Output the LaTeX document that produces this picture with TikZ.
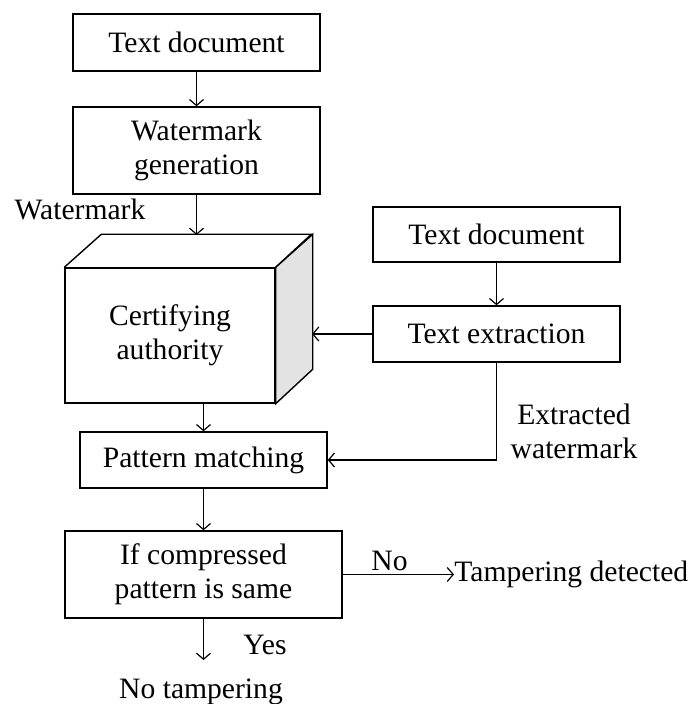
\documentclass[tikz,border=0pt]{standalone}
\usepackage{fontspec}
\setmainfont{Liberation Serif}
\usetikzlibrary{arrows.meta}
\begin{document}
\begin{tikzpicture}[x=0.5pt,y=-0.5pt,
  font=\fontsize{14.8}{17}\selectfont,
  every node/.style={align=center},
  stepbox/.style={draw, line width=0.7pt, inner sep=0pt, minimum width=123.5pt},
  lbl/.style={inner sep=0pt},
  conn/.style={line width=0.7pt},
  arr/.style={conn, -{Straight Barb[length=3pt,width=7pt,line width=0.6pt]}}]
\useasboundingbox (0,0) rectangle (697,704);
% left column
\node[stepbox, minimum height=28.5pt] (doc1) at (196.5,42.5) {Text document};
\node[stepbox, minimum height=43.5pt] (gen) at (196.5,150.5) {Watermark\\generation};
\node[lbl] (wm) at (80,209) {Watermark};
% cube
\fill[white] (102,235) -- (312,235) -- (275,268) -- (65,268) -- cycle;
\node[stepbox, minimum width=105pt, minimum height=67.5pt, fill=white] (cert) at (170,335.5) {Certifying\\authority};
\draw[conn, line join=miter] (cert.north west) -- ++(37,-33) -- ++(210,0) -- (cert.north east);
\draw[conn, fill=gray!22, line join=miter] (cert.north east) -- ++(37,-33) -- ++(0,135) -- (cert.south east) -- cycle;
\coordinate (certside) at (312,334);
% right column
\node[stepbox, minimum height=27.5pt] (doc2) at (496.5,234.5) {Text document};
\node[stepbox, minimum height=28pt] (ext) at (496.5,334) {Text extraction};
\node[lbl] (exwm) at (574,431) {Extracted\\watermark};
% lower
\node[stepbox, minimum height=28pt] (pm) at (203.5,460) {Pattern matching};
\node[stepbox, minimum width=138.5pt, minimum height=43.5pt] (dec) at (203.5,574.5) {If compressed\\pattern is same};
\node[lbl, anchor=west] (tamp) at (454,574.5) {Tampering detected};
\node[lbl] (no) at (389.5,561) {No};
\node[lbl] (yes) at (265,645) {Yes};
\coordinate (yestip) at (203.5,660);
\node[lbl] (notamp) at (201,692) {No tampering};
% connectors
\draw[arr] (doc1) -- (gen);
\draw[arr] (gen.south) -- (gen.south |- 0,235);
\draw[arr] (doc2) -- (ext);
\draw[arr] (ext.west) -- (certside);
\draw[arr] (pm.north |- cert.south) -- (pm.north);
\draw[arr] (ext.south) |- (pm.east);
\draw[arr] (pm) -- (dec);
\draw[arr] (dec.east) -- (dec.east -| tamp.west);
\draw[arr] (dec.south) -- (yestip);
\end{tikzpicture}
\end{document}
